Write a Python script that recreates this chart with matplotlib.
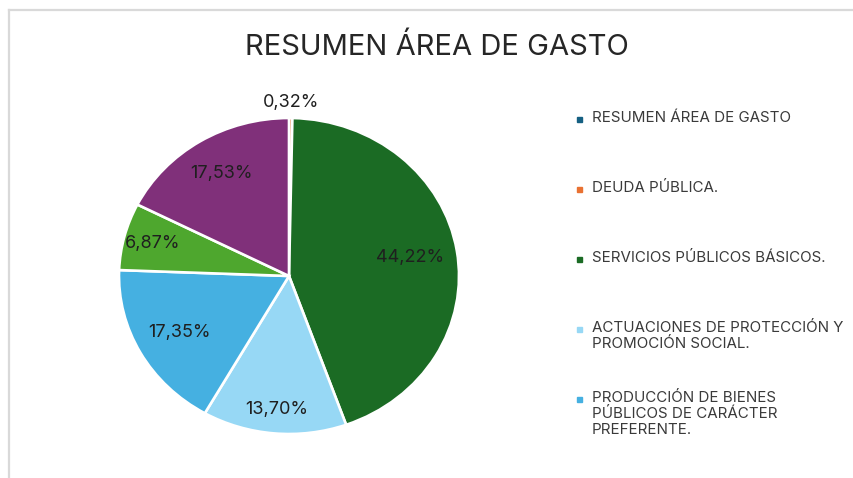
import matplotlib

matplotlib.use("Agg")
import matplotlib.pyplot as plt
from matplotlib.lines import Line2D
from matplotlib.patches import Rectangle
import numpy as np

plt.rcParams["font.family"] = ["Inter", "DejaVu Sans"]

# data
categories = [
    "RESUMEN ÁREA DE GASTO",
    "DEUDA PÚBLICA.",
    "SERVICIOS PÚBLICOS BÁSICOS.",
    "ACTUACIONES DE PROTECCIÓN Y\nPROMOCIÓN SOCIAL.",
    "PRODUCCIÓN DE BIENES\nPÚBLICOS DE CARÁCTER\nPREFERENTE.",
    "ACTUACIONES DE CARÁCTER ECONÓMICO.",
    "ACTUACIONES DE CARÁCTER GENERAL.",
]
shares = [0.0, 0.32, 44.22, 13.70, 17.35, 6.87, 17.53]
pct_labels = ["", "0,32%", "44,22%", "13,70%", "17,35%", "6,87%", "17,53%"]
legend_shown = 5  # the rest of the legend is cut off in the original

colors = ["#156082", "#e97132", "#1b6b24", "#97d8f5", "#45b0e1", "#4ea72e", "#80307a"]
label_radius = [0, 1.10, 0.72, 0.85, 0.74, 0.83, 0.76]

W, H = 854, 478
fig = plt.figure(figsize=(W / 100, H / 100), dpi=100)

# pie is slightly squashed in the original, so keep aspect auto
ax = fig.add_axes([119 / W, 1 - 434 / H, 340 / W, 316 / H])
wedges, _ = ax.pie(
    shares,
    colors=colors,
    startangle=90,
    counterclock=False,
    radius=1,
    wedgeprops=dict(edgecolor="white", linewidth=1.9),
)
ax.set_aspect("auto")
ax.set_xlim(-1, 1)
ax.set_ylim(-1, 1)
ax.axis("off")

for w, txt, r in zip(wedges, pct_labels, label_radius):
    if not txt:
        continue
    mid = np.deg2rad((w.theta1 + w.theta2) / 2)
    ax.text(r * np.cos(mid), r * np.sin(mid), txt, ha="center", va="center",
            fontsize=13, color="#1f1f1f", clip_on=False)

fig.text(437 / W, 1 - 47 / H, "RESUMEN ÁREA DE GASTO", ha="center", va="center",
         fontsize=21, color="#262626")

# hand-placed legend, entries evenly spaced like Excel does
for i in range(legend_shown):
    y = 1 - (119 + i * 70) / H
    fig.patches.append(Rectangle((577 / W, y - 2.5 / H), 5 / W, 5 / H,
                                 transform=fig.transFigure, color=colors[i]))
    fig.text(592 / W, y + 8 / H, categories[i], ha="left", va="top",
             fontsize=10.9, color="#3a3a3a", linespacing=1.18)

# chart frame remnants
fig.lines.append(Line2D([9 / W, 9 / W], [0, 1 - 10 / H], transform=fig.transFigure,
                        color="#d9d9d9", lw=1.6))
fig.lines.append(Line2D([9 / W, 1], [1 - 10 / H, 1 - 10 / H], transform=fig.transFigure,
                        color="#d9d9d9", lw=1.6))

fig.savefig("out.png", dpi=100)
